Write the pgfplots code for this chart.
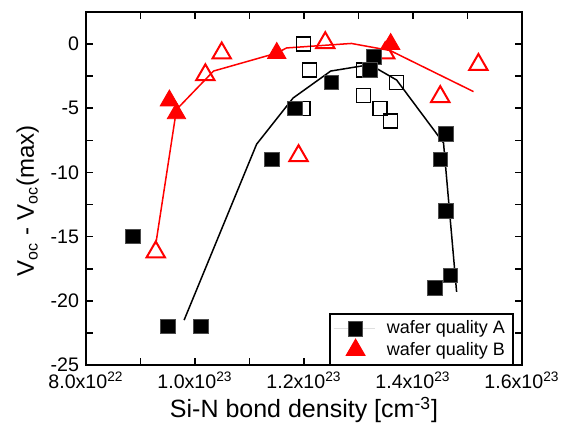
\documentclass[border=0pt]{standalone}
\usepackage{fontspec}
\setmainfont{Liberation Sans}
\usepackage{pgfplots}
\pgfplotsset{compat=1.18}

\begin{document}
\begin{tikzpicture}
\begin{axis}[
    scale only axis,
    width=218pt, height=176.5pt,
    xmin=0.8, xmax=1.6,
    ymin=-25, ymax=2.5,
    xtick={0.8,1.0,1.2,1.4,1.6},
    xticklabels={8.0x10\textsuperscript{22},1.0x10\textsuperscript{23},1.2x10\textsuperscript{23},1.4x10\textsuperscript{23},1.6x10\textsuperscript{23}},
    ytick={-25,-20,-15,-10,-5,0},
    yticklabels={-25,-20,-15,-10,-5,0},
    minor x tick num=1,
    minor y tick num=1,
    tick align=inside,
    major tick length=3.5pt,
    minor tick length=3.5pt,
    tick style={line width=0.8pt, black},
    axis line style={line width=1pt},
    tick label style={font=\fontsize{9.8}{11}\selectfont},
    xlabel={Si-N bond density [cm\textsuperscript{-3}]},
    ylabel={V\textsubscript{oc} - V\textsubscript{oc}(max)},
    xlabel style={font=\fontsize{12.5}{14}\selectfont, yshift=3pt},
    ylabel style={font=\fontsize{12}{14}\selectfont, at={(ticklabel cs:0.465)}, yshift=-1pt},
    legend style={at={(1,0)}, anchor=south east, xshift=-4.5pt, outer sep=0pt,
        draw=black, line width=0.6pt,
        font=\fontsize{9}{10.5}\selectfont, inner xsep=2pt, inner ysep=1.5pt,
        row sep=-1.5pt, legend cell align=left},
    legend image code/.code={\draw[draw=none] (0cm,0cm) -- (0.72cm,0cm);
        \draw[#1] plot coordinates {(0.38cm,0cm)};},
]
% fit lines
\addplot[black, line width=0.75pt, forget plot] coordinates {
    (0.980,-21.5) (1.113,-7.8) (1.180,-4.2) (1.249,-2.1)
    (1.321,-1.6) (1.370,-2.8) (1.456,-7.7) (1.480,-19.3)
};
\addplot[red, line width=0.75pt, forget plot] coordinates {
    (0.928,-15.6) (0.966,-5.1) (1.034,-2.1) (1.150,-0.7)
    (1.168,-0.3) (1.287,0.05) (1.358,-0.5) (1.511,-3.7)
};
% open squares (quality A)
\addplot[only marks, mark=square, mark size=3.5pt, black, line width=0.75pt, forget plot] coordinates {
    (1.199,0) (1.210,-2) (1.198,-5) (1.309,-2) (1.309,-4)
    (1.339,-5) (1.359,-6) (1.370,-3)
};
% open triangles (quality B)
\addplot[only marks, mark=triangle, mark size=5.3pt, red, line width=1pt, forget plot] coordinates {
    (1.049,-0.7) (1.019,-2.4) (1.190,-8.7) (1.239,0.1)
    (1.349,-0.7) (1.520,-1.6) (1.450,-4.1) (0.928,-16.2)
};
% filled squares (quality A)
\addplot[only marks, mark=square*, mark size=3.6pt, draw=black!70, fill=black] coordinates {
    (0.886,-15) (0.950,-22) (1.011,-22) (1.141,-9) (1.183,-5)
    (1.250,-3) (1.328,-1) (1.321,-2) (1.460,-7) (1.450,-9)
    (1.460,-13) (1.469,-18) (1.440,-19)
};
\addlegendentry{\hspace{4pt}wafer quality A}
% filled triangles (quality B)
\addplot[only marks, mark=triangle*, mark size=5.3pt, red] coordinates {
    (0.953,-4.4) (0.966,-5.4) (1.150,-0.7) (1.359,0)
};
\addlegendentry{\hspace{4pt}wafer quality B}
\end{axis}
\pgfresetboundingbox
\path[use as bounding box] ([shift={(-43pt,-35pt)}]current axis.south west)
    rectangle ([shift={(20pt,6pt)}]current axis.north east);
\end{tikzpicture}
\end{document}
